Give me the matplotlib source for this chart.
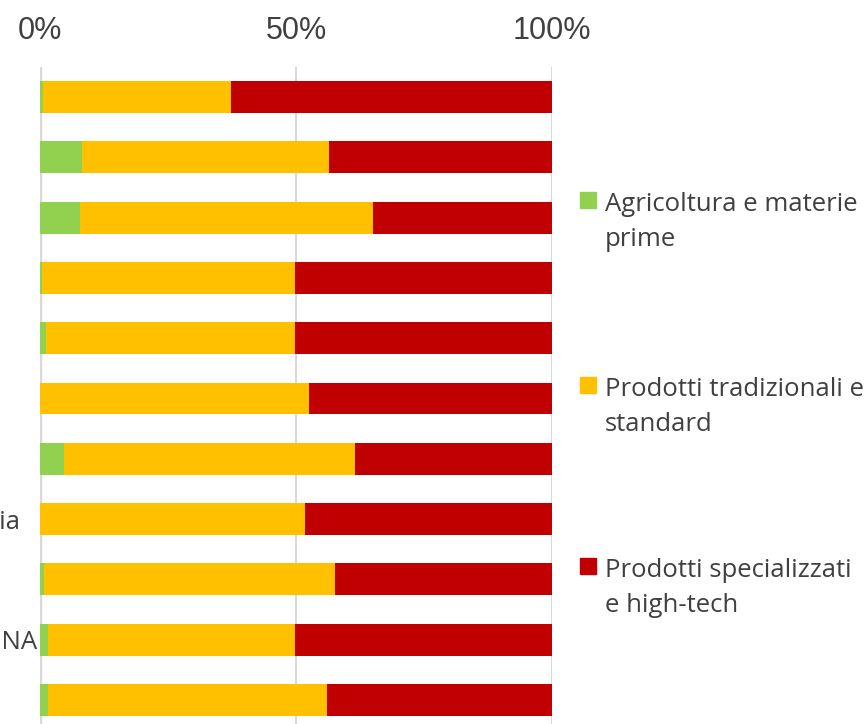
import matplotlib.pyplot as plt
from matplotlib.patches import Rectangle
from matplotlib.transforms import ScaledTranslation

# rows from top to bottom (only the tail of two labels is visible in the crop)
categories = ['', '', '', '', '', '', '', 'Italia', '', 'CINA', '']
agricoltura = [0.5, 8.2, 7.8, 0.4, 1.2, 0.0, 4.7, 0.0, 0.8, 1.6, 1.6]
tradizionali = [36.8, 48.2, 57.2, 49.4, 48.6, 52.5, 56.8, 51.8, 56.8, 48.2, 54.5]
specializzati = [100 - a - t for a, t in zip(agricoltura, tradizionali)]

series_names = ['Agricoltura e materie\nprime',
                'Prodotti tradizionali e\nstandard',
                'Prodotti specializzati\ne high-tech']
colors = ['#92D050', '#FFC000', '#C00000']

fig = plt.figure(figsize=(8.68, 7.24), dpi=100)
W, H = 868, 724
ax = fig.add_axes([40 / W, -6 / H, 512 / W, 663 / H])

y = list(range(len(categories)))
left = [0.0] * len(categories)
for vals, col in zip([agricoltura, tradizionali, specializzati], colors):
    ax.barh(y, vals, left=left, height=0.53, color=col, zorder=3)
    left = [l + v for l, v in zip(left, vals)]

ax.set_xlim(0, 100)
ax.set_ylim(len(categories) - 0.5, -0.5)
ax.set_xticks([0, 50, 100])
ax.set_xticklabels(['0%', '50%', '100%'], fontsize=22, color='#404040',
                   family='Liberation Sans')
ax.xaxis.tick_top()
ax.tick_params(axis='x', length=0, pad=15)
ax.set_yticks(y)
ax.set_yticklabels(categories, fontsize=18.5, color='#404040', family='Open Sans')
ax.tick_params(axis='y', length=0, pad=2)
# wrapped labels in the original are centred, so 'Italia' ends further left
for lab in ax.get_yticklabels():
    if lab.get_text() == 'Italia':
        lab.set_transform(lab.get_transform() +
                          ScaledTranslation(-0.17, 0, fig.dpi_scale_trans))
ax.grid(axis='x', color='#D9D9D9', linewidth=1.5, zorder=0)
for s in ax.spines.values():
    s.set_visible(False)
ax.axvline(0, color='#D9D9D9', linewidth=2.5, zorder=1)

# legend drawn by hand
square_top = [192, 377, 558]
for name, col, top in zip(series_names, colors, square_top):
    fig.patches.append(Rectangle((580 / W, 1 - (top + 16) / H), 16 / W, 16 / H,
                                 transform=fig.transFigure, color=col))
    for i, line in enumerate(name.split('\n')):
        fig.text(605 / W, 1 - (top + 19 + 35 * i) / H, line, fontsize=18.5,
                 color='#404040', family='Open Sans', va='baseline', ha='left')

fig.savefig('out.png', dpi=100)
